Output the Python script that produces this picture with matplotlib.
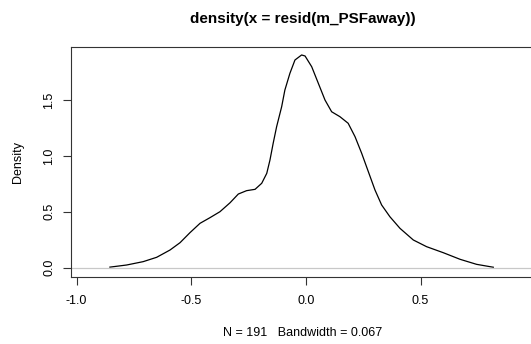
import numpy as np
import matplotlib
matplotlib.use('Agg')
import matplotlib.pyplot as plt

# density curve (resid of m_PSFaway)
dens_x = [-0.855, -0.782, -0.710, -0.651, -0.593, -0.549, -0.506, -0.462, -0.419, -0.375,
          -0.331, -0.295, -0.259, -0.222, -0.193, -0.171, -0.157, -0.143, -0.128, -0.106,
          -0.092, -0.070, -0.048, -0.019, -0.004, 0.025, 0.054, 0.083, 0.112, 0.148,
          0.184, 0.214, 0.243, 0.272, 0.301, 0.330, 0.366, 0.410, 0.468, 0.526,
          0.599, 0.672, 0.744, 0.817]
dens_y = [0.005, 0.024, 0.054, 0.093, 0.158, 0.224, 0.313, 0.397, 0.447, 0.501,
          0.581, 0.659, 0.689, 0.701, 0.755, 0.844, 0.963, 1.113, 1.261, 1.440,
          1.589, 1.739, 1.858, 1.903, 1.894, 1.798, 1.649, 1.500, 1.395, 1.351,
          1.292, 1.172, 1.023, 0.859, 0.695, 0.561, 0.456, 0.352, 0.248, 0.188,
          0.134, 0.075, 0.030, 0.004]
x_ticks = [-1.0, -0.5, 0.0, 0.5]
x_labels = ['-1.0', '-0.5', '0.0', '0.5']
y_ticks = [0.0, 0.5, 1.0, 1.5]
y_labels = ['0.0', '0.5', '1.0', '1.5']
title = 'density(x = resid(m_PSFaway))'
sub = 'N = 191   Bandwidth = 0.067'

plt.rcParams['font.family'] = ['Liberation Sans', 'DejaVu Sans']

W, H = 531, 344
fig = plt.figure(figsize=(W / 100, H / 100), dpi=100)
# plot region runs past the right edge of the picture, as in the reference
ax = fig.add_axes([70.7 / W, 1 - 277.3 / H, (541 - 70.7) / W, (277.3 - 46.7) / H])

ax.plot(dens_x, dens_y, color='black', lw=0.9, solid_joinstyle='round')
ax.axhline(0, color='#c8c8c8', lw=0.9)

ax.set_xlim(-1.026, 1.025)
ax.set_ylim(-0.086, 1.977)

ax.set_xticks(x_ticks)
ax.set_xticklabels(x_labels)
ax.set_yticks(y_ticks)
ax.set_yticklabels(y_labels, rotation=90, va='center')
ax.tick_params('both', direction='out', length=6, width=0.8, labelsize=9, color='#333333')
ax.tick_params('x', pad=7)
ax.tick_params('y', pad=5)
for s in ax.spines.values():
  s.set_linewidth(0.8)
  s.set_color('#333333')

fig.text(303 / W, 1 - 19 / H, title, ha='center', va='center', fontsize=11, fontweight='bold')
fig.text(303 / W, 1 - 333 / H, sub, ha='center', va='center', fontsize=9)
fig.text(18 / W, 1 - 162 / H, 'Density', ha='center', va='center', fontsize=9, rotation=90)

fig.savefig('out.png', dpi=100)
